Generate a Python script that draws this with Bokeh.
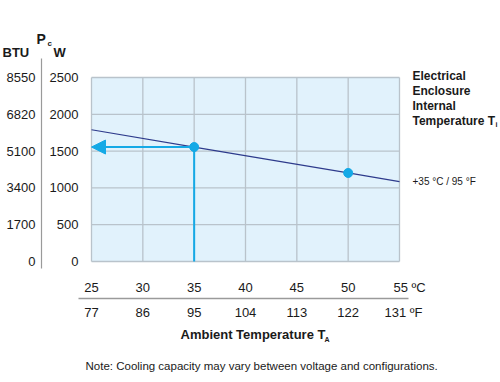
from bokeh.plotting import figure
from bokeh.models import Range1d, Arrow, NormalHead
from bokeh.core.properties import value
from bokeh.embed import file_html
from bokeh.resources import INLINE

# ---- data ----
temps_c = [25, 30, 35, 40, 45, 50, 55]
temps_f = [77, 86, 95, 104, 113, 122, 131]
watt_ticks = [0, 500, 1000, 1500, 2000, 2500]
btu_ticks = [0, 1700, 3400, 5100, 6820, 8550]
curve_t = [25, 35, 50, 55]
curve_w = [1790, 1555, 1203, 1085]
marked_t = [35, 50]
marked_w = [1555, 1203]
design_t = 35
design_w = 1555

FONT = "Liberation Sans"
CYAN = "#14a9e6"
NAVY = "#2e3b8c"
GRID = "#b9c3cb"
TEXT = "#1a1a1a"
SEP = "#9a9a9a"

# pixel -> data helpers (used only to place texts / decorations around the chart)
def dx(px):
    return temps_c[0] + (px - 91) * (temps_c[-1] - temps_c[0]) / 308

def dy(py):
    return (261 - py) * watt_ticks[-1] / 184

W, H = 500, 382
p = figure(width=W, height=H, x_range=Range1d(dx(0), dx(W)), y_range=Range1d(dy(H), dy(0)),
           x_axis_type=None, y_axis_type=None, output_backend="svg", toolbar_location=None,
           min_border=0, min_border_left=0, min_border_right=0, min_border_top=0, min_border_bottom=0)
p.outline_line_color = None
p.background_fill_color = "white"
p.border_fill_color = "white"
p.grid.visible = False

x0, x1 = temps_c[0], temps_c[-1]
y0, y1 = watt_ticks[0], watt_ticks[-1]

# chart area
p.quad(left=[x0], right=[x1], bottom=[y0], top=[y1], fill_color="#e1f2fc", line_color=None)
# grid
p.segment(x0=temps_c, y0=[y0] * len(temps_c), x1=temps_c, y1=[y1] * len(temps_c),
          line_color=GRID, line_width=1.3)
p.segment(x0=[x0] * len(watt_ticks), y0=watt_ticks, x1=[x1] * len(watt_ticks), y1=watt_ticks,
          line_color=GRID, line_width=1.3)

# curve
p.line(curve_t, curve_w, line_color=NAVY, line_width=1.2)
# design guides
p.segment(x0=[design_t], y0=[y0], x1=[design_t], y1=[design_w], line_color=CYAN, line_width=2)
p.add_layout(Arrow(end=NormalHead(size=14, fill_color=CYAN, line_color=CYAN),
                   x_start=design_t, y_start=design_w, x_end=x0, y_end=design_w,
                   line_color=CYAN, line_width=2))
p.scatter(marked_t, marked_w, size=9, fill_color=CYAN, line_color=CYAN)


def txt(xs, ys, texts, size="13px", bold=False, align="center", baseline="middle"):
    p.text(x=xs, y=ys, text=texts, text_font=value(FONT), text_font_size=value(size),
           text_font_style="bold" if bold else "normal", text_color=TEXT,
           text_align=align, text_baseline=baseline)


# y tick labels
txt([dx(78)] * len(watt_ticks), watt_ticks, [str(w) for w in watt_ticks], align="right")
txt([dx(35)] * len(watt_ticks), watt_ticks, [str(b) for b in btu_ticks], align="right")

# y headers
txt([dx(2)], [dy(52)], ["BTU"], bold=True, align="left")
txt([dx(36)], [dy(38)], ["P"], size="14px", bold=True, align="left")
txt([dx(47)], [dy(43)], ["c"], size="8px", bold=True, align="left")
txt([dx(53)], [dy(52)], ["W"], bold=True, align="left")

# separators
p.segment(x0=[dx(41)], y0=[dy(58)], x1=[dx(41)], y1=[dy(268)], line_color=SEP, line_width=1.2)
p.segment(x0=[dx(78)], y0=[dy(298)], x1=[dx(408)], y1=[dy(298)], line_color=SEP, line_width=1.5)

# x tick labels
txt(temps_c[:-1], [dy(287)] * (len(temps_c) - 1), [str(c) for c in temps_c[:-1]])
txt(temps_c[:-1], [dy(312)] * (len(temps_f) - 1), [str(f) for f in temps_f[:-1]])
txt([dx(393)], [dy(287)], [f"{temps_c[-1]} ºC"], align="left")
txt([dx(384)], [dy(312)], [f"{temps_f[-1]} ºF"], align="left")

# x title
txt([dx(180)], [dy(334)], ["Ambient Temperature T"], bold=True, align="left")
txt([dx(324)], [dy(339)], ["A"], size="7px", bold=True, align="left")

# note
txt([dx(85)], [dy(365)], ["Note: Cooling capacity may vary between voltage and configurations."],
    size="11.5px", align="left")

# right legend
legend_lines = ["Electrical", "Enclosure", "Internal", "Temperature T"]
txt([dx(412)] * 4, [dy(75 + 15 * i) for i in range(4)], legend_lines, size="12px", bold=True, align="left")
txt([dx(495)], [dy(124)], ["i"], size="7px", bold=True, align="left")
txt([dx(412)], [dy(181)], ["+35 °C / 95 °F"], size="10px", align="left")

open("out.html", "w").write(file_html(p, INLINE))
